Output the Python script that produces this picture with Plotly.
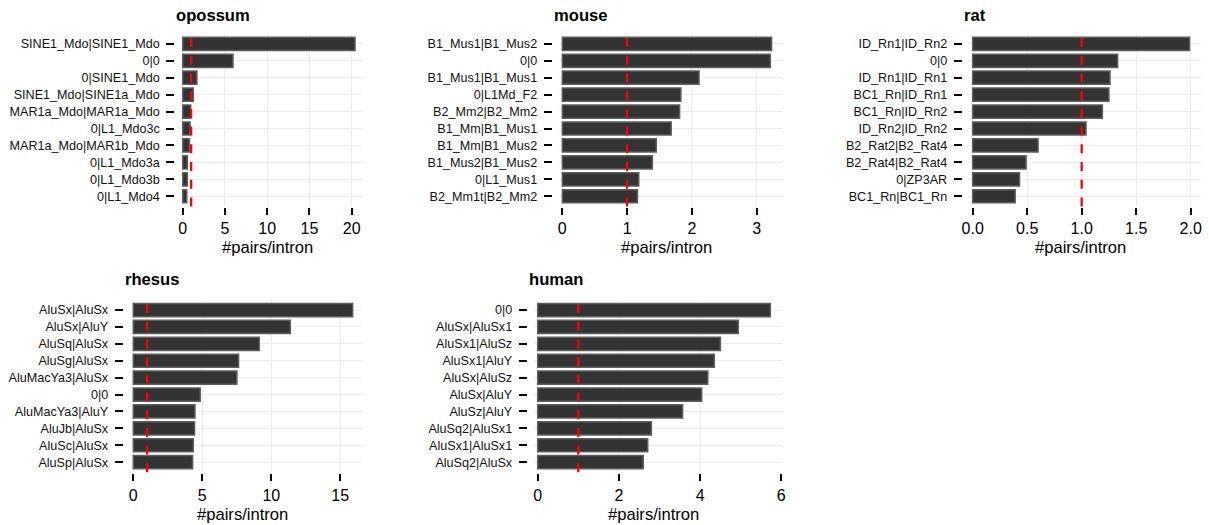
import plotly.graph_objects as go

# ---------------- data ----------------
species = ["opossum", "mouse", "rat", "rhesus", "human"]

opossum_labels = ["SINE1_Mdo|SINE1_Mdo", "0|0", "0|SINE1_Mdo", "SINE1_Mdo|SINE1a_Mdo",
                  "MAR1a_Mdo|MAR1a_Mdo", "0|L1_Mdo3c", "MAR1a_Mdo|MAR1b_Mdo",
                  "0|L1_Mdo3a", "0|L1_Mdo3b", "0|L1_Mdo4"]
opossum_values = [20.4, 5.95, 1.68, 1.25, 0.95, 0.87, 0.80, 0.55, 0.55, 0.48]

mouse_labels = ["B1_Mus1|B1_Mus2", "0|0", "B1_Mus1|B1_Mus1", "0|L1Md_F2", "B2_Mm2|B2_Mm2",
                "B1_Mm|B1_Mus1", "B1_Mm|B1_Mus2", "B1_Mus2|B1_Mus2", "0|L1_Mus1", "B2_Mm1t|B2_Mm2"]
mouse_values = [3.23, 3.21, 2.11, 1.83, 1.81, 1.68, 1.45, 1.39, 1.18, 1.16]

rat_labels = ["ID_Rn1|ID_Rn2", "0|0", "ID_Rn1|ID_Rn1", "BC1_Rn|ID_Rn1", "BC1_Rn|ID_Rn2",
              "ID_Rn2|ID_Rn2", "B2_Rat2|B2_Rat4", "B2_Rat4|B2_Rat4", "0|ZP3AR", "BC1_Rn|BC1_Rn"]
rat_values = [1.99, 1.33, 1.26, 1.25, 1.19, 1.04, 0.60, 0.49, 0.43, 0.39]

rhesus_labels = ["AluSx|AluSx", "AluSx|AluY", "AluSq|AluSx", "AluSg|AluSx", "AluMacYa3|AluSx",
                 "0|0", "AluMacYa3|AluY", "AluJb|AluSx", "AluSc|AluSx", "AluSp|AluSx"]
rhesus_values = [15.9, 11.38, 9.13, 7.63, 7.51, 4.85, 4.47, 4.44, 4.35, 4.30]

human_labels = ["0|0", "AluSx|AluSx1", "AluSx1|AluSz", "AluSx1|AluY", "AluSx|AluSz",
                "AluSx|AluY", "AluSz|AluY", "AluSq2|AluSx1", "AluSx1|AluSx1", "AluSq2|AluSx"]
human_values = [5.73, 4.94, 4.50, 4.35, 4.19, 4.04, 3.57, 2.80, 2.71, 2.60]

x_dticks = [5, 1, 0.5, 5, 2]
x_formats = ["d", "d", ".1f", "d", "d"]
reference_line = 1.0
axis_title = "#pairs/intron"

labels_all = [opossum_labels, mouse_labels, rat_labels, rhesus_labels, human_labels]
values_all = [opossum_values, mouse_values, rat_values, rhesus_values, human_values]

# ---------------- layout geometry (pixels) ----------------
W, H = 1209, 525
panels = [
    dict(L=179.0, R=363.0, ytick=174.3, rng=[-0.44, 21.34], row=0),
    dict(L=558.5, R=781.7, ytick=551.7, rng=[-0.059, 3.386], row=0),
    dict(L=968.3, R=1200.7, ytick=961.7, rng=[-0.040, 2.092], row=0),
    dict(L=129.5, R=363.3, ytick=122.7, rng=[-0.275, 16.67], row=1),
    dict(L=534.0, R=781.7, ytick=526.7, rng=[-0.091, 6.010], row=1),
]
rows = [
    dict(top=33.7, bottom=206.4, xtick=206.6, title_y=15.0, xtitle_y=248.0),
    dict(top=299.9, bottom=472.3, xtick=473.3, title_y=279.5, xtitle_y=514.5),
]

FONT = "Liberation Sans, Arial, Helvetica, sans-serif"
GRID = "#EBEBEB"

fig = go.Figure()
layout = dict(
    width=W, height=H,
    margin=dict(l=0, r=0, t=0, b=0, autoexpand=False),
    paper_bgcolor="white", plot_bgcolor="white",
    showlegend=False,
    font=dict(family=FONT, color="black"),
)
shapes = []
annotations = []

for i, (name, labs, vals) in enumerate(zip(species, labels_all, values_all)):
    p = panels[i]
    r = rows[p["row"]]
    n = i + 1
    xa = "x" if n == 1 else f"x{n}"
    ya = "y" if n == 1 else f"y{n}"
    xkey = "xaxis" if n == 1 else f"xaxis{n}"
    ykey = "yaxis" if n == 1 else f"yaxis{n}"

    fig.add_trace(go.Bar(
        x=vals, y=labs, orientation="h",
        xaxis=xa, yaxis=ya,
        width=0.78,
        marker=dict(color="#333333", line=dict(color="#5E5E5E", width=1.5)),
        hoverinfo="x+y",
    ))

    layout[xkey] = dict(
        domain=[p["L"] / W, p["R"] / W],
        range=p["rng"],
        anchor="free",
        position=1 - r["xtick"] / H,
        showgrid=True, gridcolor=GRID, gridwidth=1.1,
        zeroline=False, showline=False,
        ticks="outside", ticklen=7, tickwidth=2, tickcolor="black",
        dtick=x_dticks[i], tick0=0, tickformat=x_formats[i],
        tickfont=dict(size=16, family=FONT, color="black"),
        ticklabelstandoff=0,
        automargin=False,
        fixedrange=True,
    )
    layout[ykey] = dict(
        domain=[1 - r["bottom"] / H, 1 - r["top"] / H],
        type="category",
        categoryorder="array", categoryarray=labs,
        range=[len(labs) - 1 + 0.6, -0.6],
        anchor="free",
        position=p["ytick"] / W,
        showgrid=True, gridcolor=GRID, gridwidth=1.1,
        zeroline=False, showline=False,
        ticks="outside", ticklen=8, tickwidth=2, tickcolor="black",
        tickfont=dict(size=12.6, family=FONT, color="#111111"),
        ticklabelstandoff=4,
        automargin=False,
        fixedrange=True,
    )

    shapes.append(dict(
        type="line", xref=xa, yref=f"{ya} domain",
        x0=reference_line, x1=reference_line, y0=0, y1=1,
        line=dict(color="#FF0000", width=2.3, dash="9px,8.7px"),
        layer="above",
    ))

    annotations.append(dict(
        text=f"<b>{name}</b>", xref="paper", yref="paper",
        x=p["ytick"] / W, y=1 - r["title_y"] / H,
        xanchor="left", yanchor="middle", showarrow=False,
        font=dict(size=16.6, family=FONT, color="black"),
    ))
    annotations.append(dict(
        text=axis_title, xref="paper", yref="paper",
        x=((p["L"] + p["R"]) / 2 - 4) / W, y=1 - r["xtitle_y"] / H,
        xanchor="center", yanchor="middle", showarrow=False,
        font=dict(size=16.6, family=FONT, color="black"),
    ))

layout["shapes"] = shapes
layout["annotations"] = annotations
fig.update_layout(**layout)

fig.write_html(
    "out.html",
    config={"displayModeBar": False},
    post_script="document.body.style.margin='0';document.body.style.padding='0';",
)
